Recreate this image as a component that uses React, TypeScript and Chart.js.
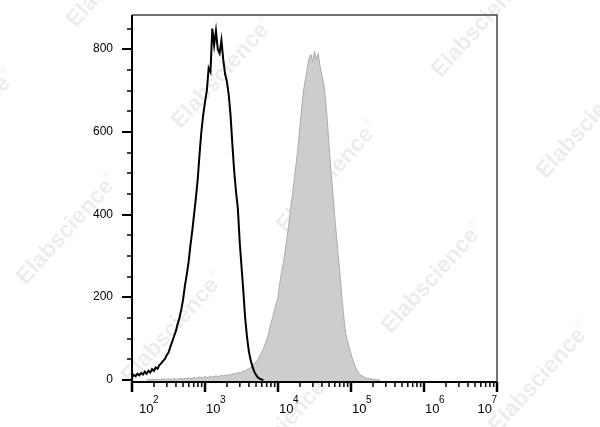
import React, { useEffect, useRef } from "react";
import { Chart, registerables } from "chart.js";

Chart.register(...registerables);

// Histogram bin grid (log10 of fluorescence channel)
const binStep = 0.025;
const isotypeStartExp = 2.0;
const stainedStartExp = 2.2;

// Isotype control (black outline) counts
const isotypeCounts = [
  6, 12, 9, 15, 11, 17, 13, 20, 15, 22,
  18, 26, 22, 30, 27, 36, 40, 46, 50, 60,
  66, 80, 92, 105, 118, 135, 150, 170, 195, 228,
  255, 285, 325, 360, 400, 440, 485, 545, 600, 640,
  672, 700, 755, 745, 850, 810, 845, 800, 790, 822,
  775, 740, 722, 690, 640, 570, 505, 455, 415, 335,
  275, 215, 150, 105, 70, 48, 32, 20, 12, 6,
  3, 1, 0,
];

// Stained sample (grey filled) counts
const stainedCounts = [
  1, 0, 1, 2, 1, 0, 2, 1, 2, 1,
  2, 1, 3, 2, 1, 3, 2, 2, 4, 3,
  2, 4, 3, 5, 3, 4, 6, 4, 5, 7,
  5, 6, 8, 6, 7, 9, 7, 8, 10, 8,
  9, 11, 10, 12, 11, 13, 12, 15, 14, 17,
  16, 19, 18, 22, 21, 25, 27, 30, 34, 40,
  44, 50, 58, 66, 76, 88, 100, 116, 135, 150,
  168, 185, 200, 235, 262, 285, 315, 345, 380, 420,
  450, 490, 525, 565, 612, 660, 700, 728, 752, 778,
  788, 770, 795, 775, 790, 760, 738, 718, 680, 628,
  565, 505, 455, 400, 350, 300, 255, 200, 155, 115,
  95, 78, 64, 48, 36, 26, 18, 13, 10, 8,
  5, 4, 3, 3, 2, 1, 1, 0, 0,
];

const xDecadeExponents = [2, 3, 4, 5, 6, 7];
const xMinorMultipliers = [2, 3, 4, 5, 6, 7, 8, 9];
const yMajorTicks = [0, 200, 400, 600, 800];
const yMinorTicks = [50, 100, 150, 250, 300, 350, 450, 500, 550, 650, 700, 750, 850];
const watermarkText = "Elabscience";
const watermarkCenters: [number, number][] = [
  [118, -28], [223, 73], [328, 177], [433, 278], [540, 378],
  [-35, 126], [68, 229], [173, 328], [280, 430],
  [483, 22], [588, 123],
];

const FONT = '"Liberation Sans", Arial, sans-serif';

const toPoints = (start: number, counts: number[]) =>
  counts.map((c, i) => ({ x: Math.pow(10, start + i * binStep), y: c }));

const watermarkPlugin = {
  id: "watermark",
  beforeDatasetsDraw(chart: any) {
    const ctx = chart.ctx as CanvasRenderingContext2D;
    ctx.save();
    ctx.fillStyle = "rgba(0,0,0,0.075)";
    ctx.textBaseline = "middle";
    ctx.textAlign = "left";
    for (const [cx, cy] of watermarkCenters) {
      ctx.save();
      ctx.translate(cx, cy);
      ctx.rotate((-48 * Math.PI) / 180);
      ctx.font = `bold 23px ${FONT}`;
      const w = ctx.measureText(watermarkText).width;
      ctx.font = `9px ${FONT}`;
      const rw = ctx.measureText("®").width;
      const total = w + rw + 1;
      ctx.font = `bold 23px ${FONT}`;
      ctx.fillText(watermarkText, -total / 2, 0);
      ctx.font = `9px ${FONT}`;
      ctx.fillText("®", -total / 2 + w + 1, -8);
      ctx.restore();
    }
    ctx.restore();
  },
};

const axesPlugin = {
  id: "axesFrame",
  afterDatasetsDraw(chart: any) {
    const ctx = chart.ctx as CanvasRenderingContext2D;
    const a = chart.chartArea;
    const xs = chart.scales.x;
    const ys = chart.scales.y;
    ctx.save();
    // top and right frame
    ctx.strokeStyle = "#444";
    ctx.lineWidth = 1.5;
    ctx.beginPath();
    ctx.moveTo(a.left, a.top);
    ctx.lineTo(a.right, a.top);
    ctx.lineTo(a.right, a.bottom);
    ctx.stroke();
    // left & bottom axes
    ctx.strokeStyle = "#000";
    ctx.lineWidth = 2;
    ctx.beginPath();
    ctx.moveTo(a.left, a.top);
    ctx.lineTo(a.left, a.bottom);
    ctx.lineTo(a.right, a.bottom);
    ctx.stroke();

    // Y ticks
    ctx.fillStyle = "#000";
    ctx.font = `12px ${FONT}`;
    ctx.textAlign = "right";
    ctx.textBaseline = "middle";
    for (const v of yMajorTicks) {
      const py = Math.round(ys.getPixelForValue(v));
      ctx.lineWidth = 2;
      ctx.beginPath();
      ctx.moveTo(a.left - 10, py);
      ctx.lineTo(a.left, py);
      ctx.stroke();
      ctx.fillText(String(v), a.left - 19, py);
    }
    for (const v of yMinorTicks) {
      const py = Math.round(ys.getPixelForValue(v));
      ctx.lineWidth = 1.5;
      ctx.beginPath();
      ctx.moveTo(a.left - 5, py);
      ctx.lineTo(a.left, py);
      ctx.stroke();
    }

    // X ticks
    for (let i = 0; i < xDecadeExponents.length; i++) {
      const e = xDecadeExponents[i];
      const px = xs.getPixelForValue(Math.pow(10, e));
      ctx.lineWidth = 2.5;
      ctx.beginPath();
      ctx.moveTo(px, a.bottom);
      ctx.lineTo(px, a.bottom + 10);
      ctx.stroke();
      if (i < xDecadeExponents.length - 1) {
        for (const m of xMinorMultipliers) {
          const mx = xs.getPixelForValue(m * Math.pow(10, e));
          ctx.lineWidth = 1.5;
          ctx.beginPath();
          ctx.moveTo(mx, a.bottom);
          ctx.lineTo(mx, a.bottom + 5);
          ctx.stroke();
        }
      }
      // label 10^e
      ctx.textBaseline = "alphabetic";
      ctx.textAlign = "left";
      ctx.font = `13px ${FONT}`;
      const baseW = ctx.measureText("10").width;
      ctx.font = `10px ${FONT}`;
      const expW = ctx.measureText(String(e)).width;
      let left: number;
      if (i === 0) left = px + 7;
      else if (i === xDecadeExponents.length - 1) left = px - baseW - expW + 0.5;
      else left = px + 1;
      ctx.font = `13px ${FONT}`;
      ctx.fillText("10", left, 413);
      ctx.font = `10px ${FONT}`;
      ctx.fillText(String(e), left + baseW - 0.5, 403);
    }
    ctx.restore();
  },
};

export default function App() {
  const ref = useRef<HTMLCanvasElement | null>(null);
  useEffect(() => {
    if (!ref.current) return;
    const chart = new Chart(ref.current, {
      type: "line",
      data: {
        datasets: [
          {
            label: "Isotype",
            data: toPoints(isotypeStartExp, isotypeCounts),
            borderColor: "#000",
            borderWidth: 2,
            fill: false,
            pointRadius: 0,
          },
          {
            label: "Stained",
            data: toPoints(stainedStartExp, stainedCounts),
            borderColor: "#ababab",
            backgroundColor: "#cdcdcd",
            borderWidth: 1,
            fill: "start",
            pointRadius: 0,
          },
        ],
      },
      options: {
        animation: false,
        responsive: false,
        layout: { padding: { left: 132, right: 103, top: 15, bottom: 45 } },
        plugins: { legend: { display: false }, tooltip: { enabled: false } },
        elements: { line: { tension: 0 }, point: { radius: 0 } },
        scales: {
          x: { type: "logarithmic", min: 100, max: 1e7, display: false },
          y: { type: "linear", min: -5, max: 883, display: false },
        },
      } as any,
      plugins: [watermarkPlugin, axesPlugin],
    });
    return () => chart.destroy();
  }, []);
  return (
    <div style={{ position: "absolute", left: 0, top: 0, width: 600, height: 427, background: "#fff" }}>
      <canvas ref={ref} width={600} height={427} style={{ display: "block" }} />
    </div>
  );
}
